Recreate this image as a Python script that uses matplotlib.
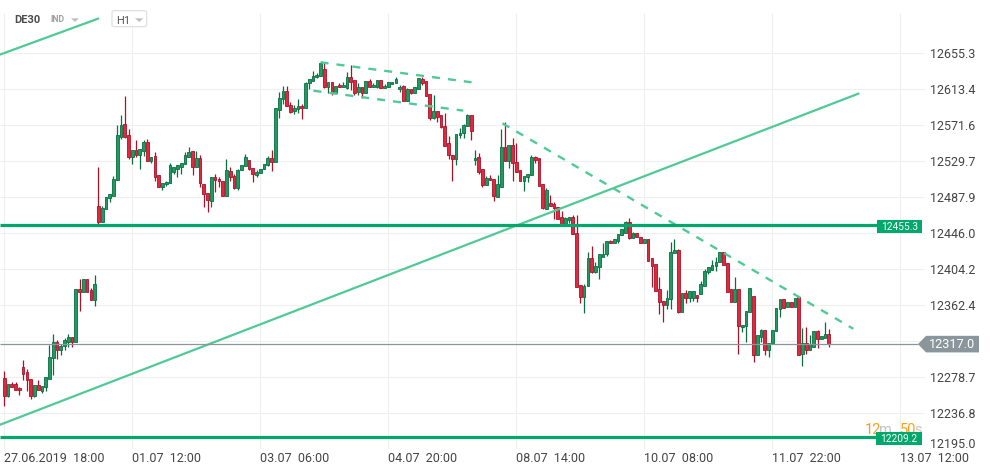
import matplotlib
matplotlib.use("Agg")
import matplotlib.pyplot as plt
from matplotlib.patches import Polygon, FancyBboxPatch, Rectangle
import numpy as np

plt.rcParams['font.family'] = ['Roboto', 'DejaVu Sans']

# ---------------- data ----------------
open_ = [12277.5, 12256.1, 12270.5, 12270.5, 12266.2, 12290.6, 12284.5, 12276.7, 12256.1, 12269.4,
         12261.9, 12267.0, 12276.3, 12300.7, 12319.7, 12309.6, 12315.0, 12320.0, 12325.1, 12320.0,
         12381.3, 12377.5, 12392.9, 12380.1, 12368.9, 12477.8, 12459.5, 12473.9, 12486.7, 12489.8,
         12507.7, 12558.3, 12573.1, 12560.3, 12535.1, 12542.5, 12537.4, 12541.4, 12552.2, 12529.8,
         12535.9, 12513.8, 12499.5, 12503.0, 12504.2, 12517.0, 12521.2, 12523.5, 12526.3, 12535.1,
         12541.4, 12522.8, 12533.2, 12503.0, 12492.6, 12484.0, 12511.1, 12509.2, 12506.9, 12489.8,
         12518.5, 12512.7, 12499.1, 12519.3, 12524.3, 12530.9, 12521.6, 12513.5, 12515.8, 12521.2,
         12525.8, 12533.2, 12528.6, 12589.0, 12601.8, 12611.5, 12594.9, 12588.6, 12590.6, 12594.4,
         12592.1, 12620.4, 12623.4, 12627.4, 12628.9, 12636.7, 12616.5, 12621.6, 12609.5, 12618.8,
         12616.1, 12615.3, 12627.4, 12623.9, 12610.0, 12616.1, 12608.8, 12622.7, 12615.8, 12616.5,
         12623.9, 12614.6, 12615.8, 12619.3, 12620.4, 12613.4, 12617.3, 12600.2, 12613.4, 12609.5,
         12614.1, 12625.1, 12623.1, 12608.0, 12580.4, 12588.2, 12583.6, 12570.8, 12550.7, 12537.1,
         12532.1, 12560.0, 12562.3, 12570.8, 12583.2, 12530.9, 12534.4, 12520.5, 12502.5, 12510.3,
         12508.6, 12488.6, 12500.2, 12546.4, 12530.4, 12549.0, 12528.9, 12519.6, 12507.2, 12511.1,
         12513.5, 12534.4, 12533.2, 12503.4, 12474.6, 12480.9, 12479.8, 12476.3, 12464.6, 12454.9,
         12461.5, 12464.6, 12446.0, 12385.6, 12371.7, 12385.1, 12417.0, 12401.4, 12406.5, 12418.8,
         12421.6, 12436.7, 12434.4, 12437.5, 12443.7, 12446.0, 12458.8, 12440.2, 12446.0, 12441.4,
         12434.4, 12439.1, 12416.7, 12410.7, 12381.3, 12367.4, 12362.7, 12369.3, 12422.8, 12426.6,
         12354.9, 12376.3, 12370.5, 12371.2, 12374.3, 12375.1, 12384.8, 12401.4, 12403.4, 12408.0,
         12412.3, 12424.0, 12411.2, 12381.3, 12365.8, 12381.3, 12336.7, 12338.6, 12354.2, 12373.1,
         12303.8, 12325.8, 12332.9, 12309.6, 12318.2, 12331.7, 12357.7, 12369.3, 12360.0, 12365.8,
         12360.0, 12372.3, 12305.4, 12318.2, 12309.6, 12314.2, 12331.8, 12323.2, 12324.7, 12329.0]
high = [12286.0, 12270.5, 12272.8, 12272.8, 12267.7, 12299.1, 12288.3, 12276.7, 12269.4, 12275.5,
        12268.5, 12278.2, 12316.2, 12329.0, 12322.0, 12317.4, 12324.0, 12329.0, 12325.1, 12381.3,
        12392.9, 12392.9, 12392.9, 12382.1, 12397.6, 12522.8, 12477.8, 12487.9, 12491.4, 12512.7,
        12571.9, 12583.6, 12605.7, 12566.9, 12542.5, 12554.2, 12543.7, 12554.2, 12556.0, 12534.4,
        12540.9, 12513.8, 12504.5, 12507.2, 12527.4, 12522.8, 12525.1, 12527.4, 12540.2, 12546.0,
        12541.4, 12541.4, 12536.7, 12503.0, 12492.6, 12511.1, 12515.0, 12511.8, 12506.9, 12532.1,
        12522.8, 12514.6, 12520.8, 12525.1, 12538.2, 12530.9, 12521.6, 12519.6, 12520.8, 12526.6,
        12535.6, 12542.5, 12591.4, 12610.7, 12617.3, 12617.3, 12598.7, 12595.2, 12601.8, 12596.4,
        12621.9, 12625.1, 12634.7, 12632.0, 12646.4, 12643.7, 12621.6, 12621.6, 12617.6, 12621.1,
        12621.6, 12633.6, 12641.7, 12623.9, 12621.1, 12616.1, 12622.7, 12625.4, 12621.1, 12623.9,
        12623.9, 12619.3, 12621.6, 12621.6, 12628.1, 12618.1, 12618.4, 12615.0, 12613.4, 12616.1,
        12626.2, 12627.4, 12623.1, 12608.0, 12606.5, 12588.2, 12583.6, 12585.5, 12559.2, 12537.1,
        12561.1, 12568.1, 12573.1, 12584.7, 12583.2, 12542.9, 12539.0, 12520.5, 12512.7, 12513.5,
        12508.6, 12513.5, 12567.3, 12575.1, 12549.0, 12556.5, 12550.7, 12519.6, 12512.7, 12515.0,
        12537.4, 12535.9, 12533.2, 12503.4, 12498.4, 12490.2, 12482.1, 12476.3, 12471.6, 12464.6,
        12465.3, 12467.3, 12467.0, 12385.6, 12387.1, 12424.0, 12431.3, 12412.7, 12421.6, 12434.4,
        12436.7, 12438.3, 12439.8, 12444.9, 12450.7, 12460.7, 12464.2, 12447.9, 12446.0, 12442.1,
        12439.4, 12439.1, 12416.7, 12410.7, 12395.6, 12367.4, 12380.1, 12436.3, 12439.1, 12427.5,
        12376.3, 12380.1, 12379.3, 12379.3, 12374.3, 12390.9, 12404.9, 12406.5, 12415.0, 12418.8,
        12424.0, 12424.0, 12411.2, 12381.3, 12395.6, 12381.3, 12339.4, 12355.7, 12382.1, 12373.1,
        12327.8, 12334.8, 12332.9, 12318.2, 12333.6, 12359.6, 12369.3, 12369.3, 12365.8, 12365.8,
        12370.5, 12372.3, 12335.6, 12336.7, 12327.8, 12331.8, 12334.0, 12326.7, 12343.3, 12334.8]
low = [12245.6, 12255.0, 12267.7, 12263.1, 12257.3, 12275.5, 12261.9, 12253.1, 12255.0, 12263.1,
       12260.1, 12261.9, 12276.3, 12280.5, 12299.6, 12304.6, 12310.4, 12314.2, 12314.2, 12320.0,
       12356.1, 12377.5, 12378.2, 12368.2, 12361.9, 12454.9, 12459.5, 12473.9, 12482.1, 12489.8,
       12507.7, 12555.3, 12556.5, 12532.4, 12526.3, 12535.1, 12520.5, 12536.3, 12529.8, 12527.4,
       12506.9, 12499.5, 12496.4, 12501.4, 12504.2, 12515.0, 12511.8, 12515.3, 12526.3, 12535.1,
       12513.8, 12522.8, 12499.5, 12477.0, 12470.5, 12477.0, 12493.7, 12500.2, 12489.8, 12489.8,
       12506.5, 12497.6, 12496.4, 12519.3, 12524.3, 12519.6, 12505.3, 12511.1, 12515.8, 12521.2,
       12524.3, 12518.5, 12528.6, 12579.7, 12596.4, 12593.7, 12585.5, 12584.7, 12585.5, 12579.3,
       12592.1, 12614.1, 12623.4, 12626.6, 12628.9, 12615.3, 12609.5, 12606.8, 12607.6, 12616.1,
       12616.1, 12613.4, 12612.6, 12606.8, 12606.5, 12603.0, 12608.8, 12615.8, 12615.8, 12615.0,
       12615.3, 12614.6, 12615.8, 12619.3, 12620.4, 12610.0, 12600.2, 12600.2, 12608.3, 12609.5,
       12614.1, 12618.8, 12606.0, 12577.8, 12579.3, 12575.8, 12568.8, 12547.9, 12532.8, 12507.2,
       12525.8, 12557.2, 12557.2, 12570.8, 12554.5, 12525.8, 12514.6, 12500.2, 12502.5, 12507.7,
       12484.0, 12488.6, 12500.2, 12530.4, 12521.6, 12507.2, 12517.7, 12507.2, 12495.6, 12505.3,
       12513.5, 12527.4, 12501.4, 12473.9, 12474.6, 12478.1, 12462.3, 12463.0, 12454.9, 12454.9,
       12457.7, 12444.9, 12383.9, 12364.7, 12353.0, 12385.1, 12399.5, 12399.5, 12392.6, 12418.8,
       12420.0, 12434.4, 12434.4, 12435.1, 12443.7, 12446.0, 12439.1, 12440.2, 12441.4, 12434.4,
       12434.4, 12414.2, 12383.3, 12379.3, 12352.2, 12343.3, 12357.7, 12357.7, 12422.8, 12353.0,
       12354.9, 12365.4, 12366.5, 12367.7, 12366.2, 12375.1, 12384.8, 12398.7, 12403.4, 12402.2,
       12412.3, 12409.2, 12378.2, 12365.8, 12365.8, 12305.7, 12330.9, 12319.3, 12354.2, 12296.1,
       12303.8, 12319.3, 12304.6, 12302.6, 12318.2, 12331.7, 12348.0, 12359.6, 12360.0, 12360.7,
       12360.0, 12304.6, 12292.1, 12305.7, 12309.6, 12314.2, 12312.3, 12323.2, 12324.7, 12314.2]
close_ = [12256.1, 12270.5, 12267.7, 12263.1, 12263.1, 12282.1, 12275.2, 12256.1, 12269.4, 12263.1,
          12268.5, 12278.2, 12302.3, 12319.7, 12310.0, 12315.0, 12322.0, 12325.1, 12320.0, 12381.3,
          12377.5, 12392.9, 12378.2, 12368.2, 12387.1, 12459.5, 12475.4, 12487.9, 12491.4, 12509.2,
          12560.3, 12571.9, 12558.3, 12535.1, 12542.5, 12537.4, 12543.7, 12552.2, 12529.8, 12534.4,
          12511.8, 12500.2, 12504.5, 12505.3, 12525.1, 12522.8, 12525.1, 12527.4, 12536.7, 12540.2,
          12522.8, 12533.2, 12504.2, 12491.4, 12484.4, 12511.1, 12507.7, 12506.5, 12489.8, 12519.6,
          12511.8, 12499.1, 12519.6, 12525.1, 12534.4, 12520.5, 12514.6, 12517.3, 12520.8, 12526.6,
          12533.2, 12528.6, 12591.4, 12603.0, 12611.5, 12593.7, 12587.1, 12591.4, 12594.4, 12592.1,
          12620.4, 12625.1, 12628.9, 12630.1, 12643.7, 12616.5, 12621.6, 12610.7, 12617.6, 12616.1,
          12618.1, 12627.4, 12622.3, 12609.5, 12616.1, 12608.8, 12622.7, 12615.8, 12618.1, 12623.9,
          12615.3, 12617.3, 12621.6, 12621.6, 12625.1, 12616.1, 12600.2, 12613.4, 12609.5, 12616.1,
          12626.2, 12621.1, 12606.0, 12580.4, 12588.2, 12581.6, 12570.0, 12547.9, 12536.7, 12532.1,
          12561.1, 12562.3, 12571.6, 12583.2, 12565.3, 12533.2, 12517.5, 12502.5, 12510.0, 12507.7,
          12489.8, 12503.0, 12546.4, 12530.4, 12549.0, 12527.4, 12517.7, 12507.2, 12512.7, 12515.0,
          12534.4, 12531.3, 12501.4, 12475.8, 12496.4, 12478.1, 12475.8, 12463.0, 12454.9, 12463.5,
          12464.6, 12444.9, 12383.9, 12371.7, 12385.1, 12417.0, 12401.4, 12408.0, 12421.6, 12422.0,
          12436.7, 12434.4, 12439.1, 12444.9, 12450.7, 12458.8, 12440.2, 12446.0, 12441.4, 12434.4,
          12439.4, 12414.2, 12408.4, 12379.3, 12365.6, 12362.7, 12370.5, 12424.0, 12426.6, 12354.9,
          12376.3, 12370.5, 12379.3, 12379.3, 12371.2, 12387.1, 12402.6, 12406.5, 12409.2, 12412.3,
          12424.0, 12409.2, 12378.2, 12365.8, 12381.3, 12338.6, 12339.4, 12355.7, 12382.1, 12303.8,
          12327.8, 12332.9, 12309.6, 12318.2, 12333.6, 12359.6, 12369.3, 12359.6, 12365.8, 12360.7,
          12370.5, 12304.6, 12318.2, 12310.4, 12317.0, 12331.8, 12323.2, 12326.7, 12329.0, 12317.0]

# time axis labels (one every 34 hourly candles)
x_tick_pos = [0, 34, 68, 102, 136, 170, 204, 238]
x_tick_labels = ["27.06.2019  18:00", "01.07  12:00", "03.07  06:00", "04.07  20:00",
                 "08.07  14:00", "10.07  08:00", "11.07  22:00", "13.07  12:00"]
y_tick_vals = [12195.0, 12236.8, 12278.7, 12320.5, 12362.4, 12404.2, 12446.0,
               12487.9, 12529.7, 12571.6, 12613.4, 12655.3]
# the 12320.5 label is hidden behind the last-price marker; 12195.0 is drawn lifted
y_tick_labels = ["", "12236.8", "12278.7", "", "12362.4", "12404.2", "12446.0",
                 "12487.9", "12529.7", "12571.6", "12613.4", "12655.3"]
bottom_label = "12195.0"

# drawn objects (candle index, price)
trend_up_x, trend_up_y = [-1.2, 227.1], [12223.1, 12608.8]
trend_top_x, trend_top_y = [-1.2, 25.15], [12653.7, 12696.0]
flag_hi_x, flag_hi_y = [84.0, 124.1], [12644.8, 12621.6]
flag_lo_x, flag_lo_y = [82.1, 121.9], [12611.8, 12588.6]
trend_dn_x, trend_dn_y = [132.3, 225.5], [12573.9, 12334.8]
resist_level = 12455.3
support_level = 12209.2
last_price = 12317.0
countdown = ("12", "m", "50", "s")

# ---------------- styling ----------------
W, H = 990, 474
fig = plt.figure(figsize=(W / 100, H / 100), dpi=100)
fig.patch.set_facecolor("white")

def fx(px):
    return px / W

def fy(py):
    return 1 - py / H

AX_RIGHT, AX_BOTTOM = 925, 449
ax = fig.add_axes([0, fy(AX_BOTTOM), AX_RIGHT / W, AX_BOTTOM / H])
XMIN, XMAX = -1.142, 244.54
YMIN, YMAX = 12195.0, 12717.3
ax.set_xlim(XMIN, XMAX)
ax.set_ylim(YMIN, YMAX)
for s in ax.spines.values():
    s.set_visible(False)

GRID = "#efefef"
ytop_grid = YMAX - 13 * (YMAX - YMIN) / AX_BOTTOM
ax.vlines(x_tick_pos, YMIN, ytop_grid, colors=GRID, linewidth=0.8, zorder=0)
ax.hlines(y_tick_vals, XMIN, XMAX, colors=GRID, linewidth=0.8, zorder=0)

ax.set_xticks(x_tick_pos)
ax.set_xticklabels(x_tick_labels)
for t in ax.get_xticklabels():
    t.set_ha("left")
ax.tick_params(axis="x", length=0, pad=2.2, labelsize=9, labelcolor="#444444")
ax.yaxis.tick_right()
ax.set_yticks(y_tick_vals)
ax.set_yticklabels(y_tick_labels)
ax.tick_params(axis="y", length=0, pad=3.6, labelsize=9, labelcolor="#444444")
fig.text(fx(930), fy(444), bottom_label, fontsize=9, color="#444444", ha="left", va="center")

# candles
o = np.array(open_); h = np.array(high); l = np.array(low); c = np.array(close_)
idx = np.arange(len(c))
up = c >= o
G_FILL, G_EDGE = "#1f9a62", "#0b6e40"
R_FILL, R_EDGE = "#e2283c", "#a8132a"
edge = np.where(up, G_EDGE, R_EDGE)
fill = np.where(up, G_FILL, R_FILL)
ax.vlines(idx, l, h, colors=edge, linewidth=0.9, zorder=3)
bottom = np.minimum(o, c)
height = np.maximum(np.abs(c - o), 1.3)
ax.bar(idx, height, bottom=bottom, width=0.72, color=fill, edgecolor=edge,
       linewidth=0.6, zorder=4)

# drawings
LG = "#4fca95"
ax.plot(trend_up_x, trend_up_y, color=LG, lw=1.6, zorder=5, solid_capstyle="butt")
ax.plot(trend_top_x, trend_top_y, color=LG, lw=1.6, zorder=5, solid_capstyle="butt")
for xs, ys in [(flag_hi_x, flag_hi_y), (flag_lo_x, flag_lo_y), (trend_dn_x, trend_dn_y)]:
    ax.plot(xs, ys, color=LG, lw=1.7, zorder=5, linestyle=(0, (3.4, 3.4)))

HG = "#00a86b"
x_box = (877 - 4.3) / 3.765
ax.hlines([resist_level, support_level], XMIN, x_box, colors=HG, linewidth=2.3, zorder=6)
ax.hlines([last_price], XMIN, (918 - 4.3) / 3.765, colors="#8a969b", linewidth=0.9, zorder=6)

# countdown text (bottom partly under the box)
cd_x = [865, 878.5, 900, 914]
cd_col = ["#f7a11a", "#c4c4c4", "#f7a11a", "#c4c4c4"]
for s, xx, cc in zip(countdown, cd_x, cd_col):
    fig.text(fx(xx), fy(433.8), s, color=cc, fontsize=10.5, ha="left", va="baseline", zorder=8)

# level label boxes
def price_to_py(p):
    return (YMAX - p) / (YMAX - YMIN) * AX_BOTTOM

for lvl, (x0, x1, hh) in [(resist_level, (877, 922, 13.3)), (support_level, (876, 922, 13.0))]:
    py = price_to_py(lvl) + 1.5
    fig.add_artist(Rectangle((fx(x0), fy(py + hh / 2)), (x1 - x0) / W, hh / H,
                             transform=fig.transFigure, facecolor=HG, edgecolor="none", zorder=9))
    fig.text(fx((x0 + x1) / 2), fy(py + 0.3), f"{lvl:.1f}", color="white", fontsize=7.3,
             ha="center", va="center", zorder=10)

py = price_to_py(last_price)
pts = [(918, py), (926, py - 8.3), (979, py - 8.3), (979, py + 8.3), (926, py + 8.3)]
fig.add_artist(Polygon([(fx(a), fy(b)) for a, b in pts], closed=True, transform=fig.transFigure,
                       facecolor="#8a969b", edgecolor="none", zorder=9))
fig.text(fx(952), fy(py + 0.3), f"{last_price:.1f}", color="white", fontsize=9.2,
         ha="center", va="center", zorder=10)

# header
fig.text(fx(14), fy(20), "DE30", fontsize=8, fontweight="bold", color="#4d4d4d",
         ha="left", va="center", zorder=10)
fig.text(fx(50.5), fy(20), "IND", fontsize=6.3, fontweight="bold", color="#a0a0a0",
         ha="left", va="center", zorder=10)
tri = [(71, 18.3), (79, 18.3), (75, 22)]
fig.add_artist(Polygon([(fx(a), fy(b)) for a, b in tri], closed=True, transform=fig.transFigure,
                       facecolor="#c0c0c0", edgecolor="none", zorder=10))
fig.add_artist(FancyBboxPatch((fx(112), fy(26.7)), 34.7 / W, 16 / H,
                              boxstyle="round,pad=0,rounding_size=0.003",
                              transform=fig.transFigure, facecolor="white",
                              edgecolor="#dddddd", linewidth=0.8, zorder=10))
fig.text(fx(116), fy(20.8), "H1", fontsize=8, color="#555555", ha="left", va="center", zorder=11)
tri2 = [(135, 18.3), (143.3, 18.3), (139.2, 22)]
fig.add_artist(Polygon([(fx(a), fy(b)) for a, b in tri2], closed=True, transform=fig.transFigure,
                       facecolor="#c0c0c0", edgecolor="none", zorder=11))

fig.savefig("out.png", dpi=100, facecolor="white")
